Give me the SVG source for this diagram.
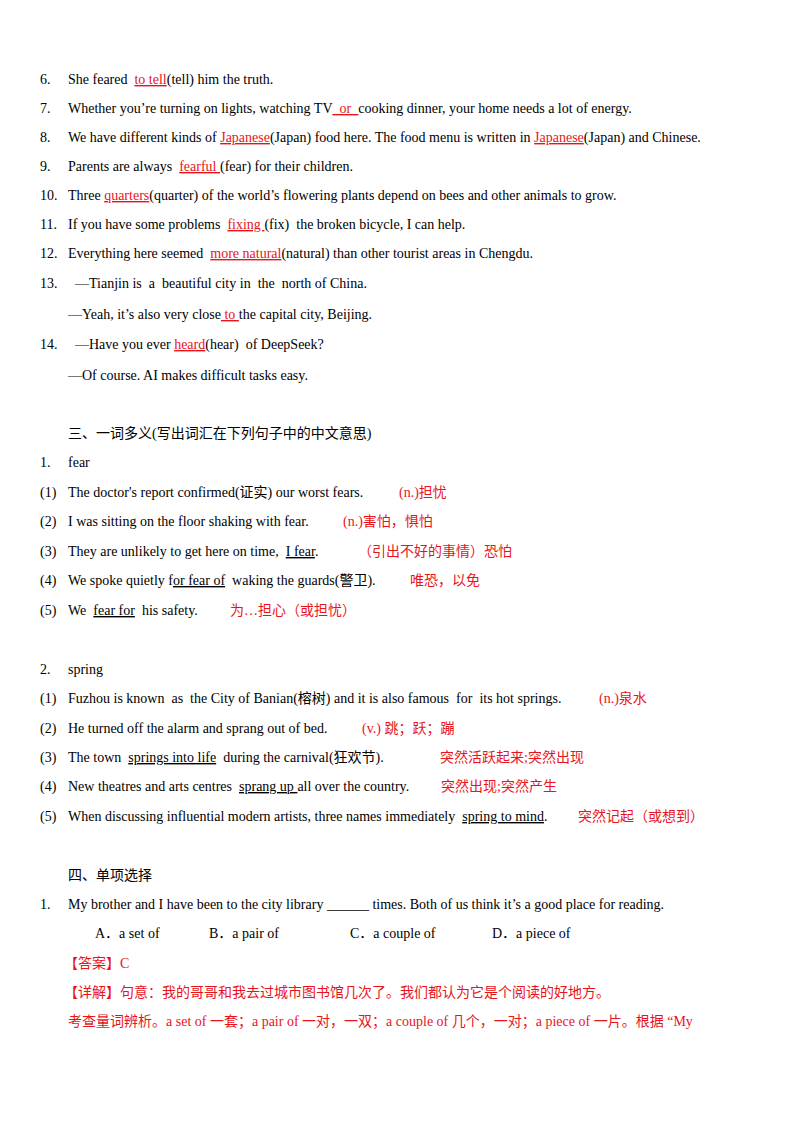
<svg xmlns="http://www.w3.org/2000/svg" width="800" height="1132" viewBox="0 0 800 1132">
<style>
text{font-family:"Liberation Serif","Noto Sans CJK SC",serif;font-size:14px;fill:#000;white-space:pre}
.r{fill:#e8141c}
.u{text-decoration:underline}
</style>
<rect width="800" height="1132" fill="#fff"/>
<g id="page">
<text x="40" y="84">6.</text><text x="68" y="84">She feared  <tspan class="r u">to tell</tspan>(tell) him the truth.</text>
<text x="40" y="113">7.</text><text x="68" y="113">Whether you’re turning on lights, watching TV<tspan class="r u">_or_</tspan>cooking dinner, your home needs a lot of energy.</text>
<text x="40" y="142">8.</text><text x="68" y="142">We have different kinds of <tspan class="r u">Japanese</tspan>(Japan) food here. The food menu is written in <tspan class="r u">Japanese</tspan>(Japan) and Chinese.</text>
<text x="40" y="171">9.</text><text x="68" y="171">Parents are always  <tspan class="r u">fearful </tspan>(fear) for their children.</text>
<text x="40" y="200">10.</text><text x="68" y="200">Three <tspan class="r u">quarters</tspan>(quarter) of the world’s flowering plants depend on bees and other animals to grow.</text>
<text x="40" y="229">11.</text><text x="68" y="229">If you have some problems  <tspan class="r u">fixing </tspan>(fix)  the broken bicycle, I can help.</text>
<text x="40" y="258">12.</text><text x="68" y="258">Everything here seemed  <tspan class="r u">more natural</tspan>(natural) than other tourist areas in Chengdu.</text>
<text x="40" y="288">13.</text><text x="68" y="288">  —Tianjin is  a  beautiful city in  the  north of China.</text>
<text x="68" y="319">—Yeah, it’s also very close<tspan class="r u"> to </tspan>the capital city, Beijing.</text>
<text x="40" y="349">14.</text><text x="68" y="349">  —Have you ever <tspan class="r u">heard</tspan>(hear)  of DeepSeek?</text>
<text x="68" y="380">—Of course. AI makes difficult tasks easy.</text>

<text x="68" y="438">三、一词多义(写出词汇在下列句子中的中文意思)</text>
<text x="40" y="467">1.</text><text x="68" y="467">fear</text>
<text x="40" y="497">(1)</text><text x="68" y="497">The doctor's report confirmed(证实) our worst fears.</text><text class="r" x="399" y="497">(n.)担忧</text>
<text x="40" y="526">(2)</text><text x="68" y="526">I was sitting on the floor shaking with fear.</text><text class="r" x="343" y="526">(n.)害怕，惧怕</text>
<text x="40" y="556">(3)</text><text x="68" y="556">They are unlikely to get here on time,  <tspan class="u">I fear</tspan>.</text><text class="r" x="358" y="556">（引出不好的事情）恐怕</text>
<text x="40" y="585">(4)</text><text x="68" y="585">We spoke quietly f<tspan class="u">or fear of</tspan>  waking the guards(警卫).</text><text class="r" x="410" y="585">唯恐，以免</text>
<text x="40" y="615">(5)</text><text x="68" y="615">We  <tspan class="u">fear for</tspan>  his safety.</text><text class="r" x="230" y="615">为…担心（或担忧）</text>

<text x="40" y="674">2.</text><text x="68" y="674">spring</text>
<text x="40" y="703">(1)</text><text x="68" y="703">Fuzhou is known  as  the City of Banian(榕树) and it is also famous  for  its hot springs.</text><text class="r" x="599" y="703">(n.)泉水</text>
<text x="40" y="733">(2)</text><text x="68" y="733">He turned off the alarm and sprang out of bed.</text><text class="r" x="362" y="733">(v.) 跳；跃；蹦</text>
<text x="40" y="762">(3)</text><text x="68" y="762">The town  <tspan class="u">springs into life</tspan>  during the carnival(狂欢节).</text><text class="r" x="440" y="762">突然活跃起来;突然出现</text>
<text x="40" y="791">(4)</text><text x="68" y="791">New theatres and arts centres  <tspan class="u">sprang up </tspan>all over the country.</text><text class="r" x="441" y="791">突然出现;突然产生</text>
<text x="40" y="821">(5)</text><text x="68" y="821">When discussing influential modern artists, three names immediately  <tspan class="u">spring to mind</tspan>.</text><text class="r" x="578" y="821">突然记起（或想到）</text>

<text x="68" y="880">四、单项选择</text>
<text x="40" y="909">1.</text><text x="68" y="909">My brother and I have been to the city library ______ times. Both of us think it’s a good place for reading.</text>
<text x="95" y="938">A．a set of</text><text x="209" y="938">B．a pair of</text><text x="350" y="938">C．a couple of</text><text x="492" y="938">D．a piece of</text>
<text class="r" x="64" y="968">【答案】C</text>
<text class="r" x="64" y="997">【详解】句意：我的哥哥和我去过城市图书馆几次了。我们都认为它是个阅读的好地方。</text>
<text class="r" x="68" y="1026">考查量词辨析。a set of 一套；a pair of 一对，一双；a couple of 几个，一对；a piece of 一片。根据 “My</text>
</g>
</svg>
